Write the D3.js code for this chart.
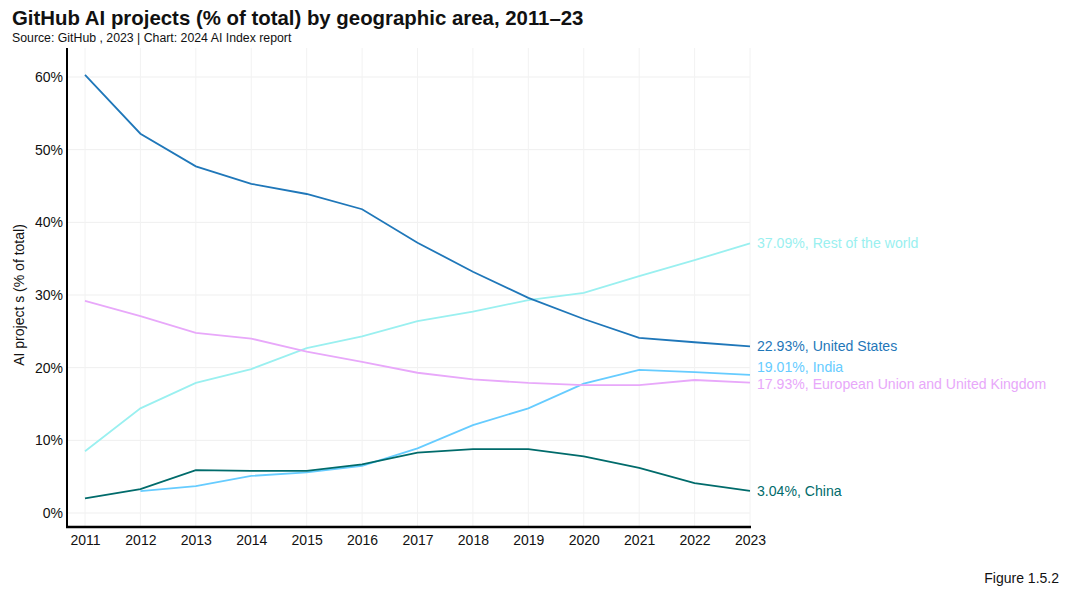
<!DOCTYPE html>
<html><head><meta charset="utf-8">
<script src="https://cdn.jsdelivr.net/npm/d3@7"></script>
<style>body{margin:0;background:#fff;} text{font-family:"Liberation Sans",Arial,sans-serif;}</style>
</head><body><svg id="c" width="1072" height="595"></svg>
<script>
const years = [2011,2012,2013,2014,2015,2016,2017,2018,2019,2020,2021,2022,2023];
const yTicks = [0,10,20,30,40,50,60];
const unitedStates = [60.3,52.2,47.7,45.3,43.9,41.8,37.2,33.2,29.6,26.7,24.1,23.5,22.93];
const restOfWorld = [8.5,14.4,17.9,19.8,22.7,24.3,26.4,27.7,29.3,30.3,32.6,34.8,37.09];
const euUk = [29.2,27.1,24.8,24.0,22.2,20.8,19.3,18.4,17.9,17.6,17.6,18.3,17.93];
const india = [null,3.0,3.7,5.1,5.6,6.5,8.9,12.1,14.4,17.8,19.7,19.4,19.01];
const china = [2.0,3.3,5.9,5.8,5.8,6.7,8.3,8.8,8.8,7.8,6.2,4.1,3.04];
const seriesNames = ["Rest of the world","United States","India","European Union and United Kingdom","China"];
const seriesValues = [restOfWorld, unitedStates, india, euUk, china];
const seriesColors = ["#9af0f0","#1f77b9","#66ccff","#e8a8fa","#006b6b"];
const labelNudge = [0,0,-8,1,0];

const svg = d3.select("#c");
const x = d3.scaleLinear().domain([2011,2023]).range([85,750]);
const y = d3.scaleLinear().domain([0,60]).range([513,77]);

// gridlines
svg.append("g").selectAll("line").data(yTicks).join("line")
  .attr("x1",67).attr("x2",750).attr("y1",d=>y(d)).attr("y2",d=>y(d))
  .attr("stroke","#efefef").attr("stroke-width",1);
svg.append("g").selectAll("line").data(years).join("line")
  .attr("x1",d=>x(d)).attr("x2",d=>x(d)).attr("y1",48).attr("y2",526)
  .attr("stroke","#f2f2f2").attr("stroke-width",1);

// axes
const yAxis = svg.append("g").attr("transform","translate(67,0)")
  .call(d3.axisLeft(y).tickValues(yTicks).tickSize(0).tickPadding(4).tickFormat(d=>d+"%"));
yAxis.select(".domain").remove();
yAxis.selectAll("text").attr("font-size",14).attr("fill","#111");
svg.append("line").attr("x1",67).attr("x2",67).attr("y1",48).attr("y2",528).attr("stroke","#000").attr("stroke-width",2);

const xAxis = svg.append("g").attr("transform","translate(0,527)")
  .call(d3.axisBottom(x).tickValues(years).tickSize(0).tickPadding(8).tickFormat(d3.format("d")));
xAxis.select(".domain").remove();
xAxis.selectAll("text").attr("font-size",14).attr("fill","#111");
svg.append("line").attr("x1",66).attr("x2",751).attr("y1",527).attr("y2",527).attr("stroke","#000").attr("stroke-width",2.5);

// lines
const line = d3.line().defined(d=>d.v!=null).x(d=>x(d.year)).y(d=>y(d.v));
seriesValues.forEach((vals,i)=>{
  const pts = years.map((yr,j)=>({year:yr,v:vals[j]}));
  svg.append("path").datum(pts).attr("d",line).attr("fill","none")
    .attr("stroke",seriesColors[i]).attr("stroke-width",1.8);
  const last = vals[vals.length-1];
  svg.append("text").attr("x",x(2023)+7).attr("y",y(last)+labelNudge[i]).attr("dy","0.35em")
    .attr("font-size",14.1).attr("fill",seriesColors[i])
    .text(d3.format(".2f")(last)+"%, "+seriesNames[i]);
});

// titles
svg.append("text").attr("x",12).attr("y",25).attr("font-size",20.4).attr("font-weight","bold").attr("fill","#111")
  .text("GitHub AI projects (% of total) by geographic area, 2011–23");
svg.append("text").attr("x",12).attr("y",42).attr("font-size",12.3).attr("fill","#111")
  .text("Source: GitHub , 2023 | Chart: 2024 AI Index report");
svg.append("text").attr("transform","translate(24,295) rotate(-90)").attr("text-anchor","middle")
  .attr("font-size",14).attr("fill","#111").text("AI project s (% of total)");
svg.append("text").attr("x",1059).attr("y",583).attr("text-anchor","end").attr("font-size",14).attr("fill","#111")
  .text("Figure 1.5.2");
</script></body></html>
